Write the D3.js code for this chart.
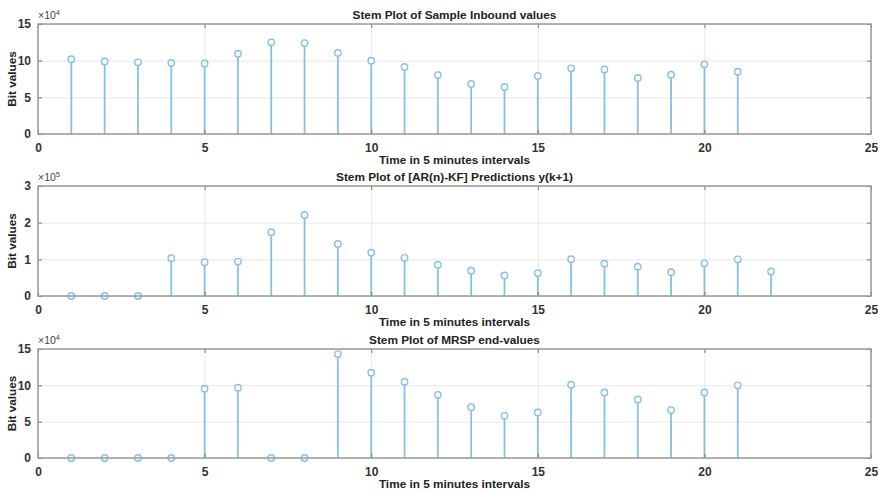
<!DOCTYPE html>
<html>
<head>
<meta charset="utf-8">
<script src="https://cdn.jsdelivr.net/npm/d3@7"></script>
<style>
  html, body { margin: 0; padding: 0; background: #fff; }
  svg { display: block; font-family: "Liberation Sans", Arial, sans-serif; }
</style>
</head>
<body>
<svg id="chart" width="878" height="491"></svg>
<script>
// Sample index (time in 5 minute intervals)
const inboundX = d3.range(1, 22);
const inboundValues = [102000, 99000, 97700, 96800, 96300, 109500, 125000, 124000, 110500,
  100000, 91400, 80300, 68200, 64100, 79100, 89500, 88100, 76400, 80900, 95000, 85000];

const predX = d3.range(1, 23);
const predValues = [0, 0, 0, 103000, 92000, 94000, 174000, 221000, 142000, 118000, 104000,
  85500, 69000, 56000, 62500, 100500, 88000, 80000, 65000, 89000, 100000, 67000];

const mrspX = d3.range(1, 22);
const mrspValues = [0, 0, 0, 0, 95300, 96700, 0, 0, 143000, 117400, 105000, 87000, 70000,
  58000, 62700, 100800, 90300, 80600, 65900, 90300, 100000];

const xTicks = [0, 5, 10, 15, 20, 25];
const yTicks1e4 = [0, 50000, 100000, 150000];
const yTicks1e5 = [0, 100000, 200000, 300000];

const panels = [
  { title: "Stem Plot of Sample Inbound values", xs: inboundX, ys: inboundValues,
    yMax: 150000, yTicks: yTicks1e4, exp: 4, top: 24, bottom: 134 },
  { title: "Stem Plot of [AR(n)-KF] Predictions y(k+1)", xs: predX, ys: predValues,
    yMax: 300000, yTicks: yTicks1e5, exp: 5, top: 186, bottom: 296 },
  { title: "Stem Plot of MRSP end-values", xs: mrspX, ys: mrspValues,
    yMax: 150000, yTicks: yTicks1e4, exp: 4, top: 349, bottom: 458 }
];

const left = 38, right = 871;
const stemColor = "#86c0e8";
const svg = d3.select("#chart");

panels.forEach(p => {
  const x = d3.scaleLinear().domain([0, 25]).range([left, right]);
  const y = d3.scaleLinear().domain([0, p.yMax]).range([p.bottom, p.top]);
  const h = p.bottom - p.top, w = right - left;
  const g = svg.append("g");
  const scale = Math.pow(10, p.exp);

  // grid lines
  g.append("g").attr("transform", `translate(0,${p.bottom})`)
    .call(d3.axisBottom(x).tickValues(xTicks).tickSize(-h).tickFormat(""))
    .call(a => a.select(".domain").remove())
    .call(a => a.selectAll("line").attr("stroke", "#e8e8e8").attr("stroke-width", 1));
  g.append("g").attr("transform", `translate(${left},0)`)
    .call(d3.axisLeft(y).tickValues(p.yTicks).tickSize(-w).tickFormat(""))
    .call(a => a.select(".domain").remove())
    .call(a => a.selectAll("line").attr("stroke", "#e8e8e8").attr("stroke-width", 1));

  // stems
  g.selectAll(".stem").data(p.xs.map((d, i) => [d, p.ys[i]])).join("line")
    .attr("x1", d => x(d[0])).attr("x2", d => x(d[0]))
    .attr("y1", y(0)).attr("y2", d => y(d[1]))
    .attr("stroke", stemColor).attr("stroke-width", 1.8);
  g.selectAll(".head").data(p.xs.map((d, i) => [d, p.ys[i]])).join("circle")
    .attr("cx", d => x(d[0])).attr("cy", d => y(d[1])).attr("r", 3.2)
    .attr("fill", "#fff").attr("stroke", stemColor).attr("stroke-width", 1.4);

  // axes with inward ticks
  const styleAxis = a => {
    a.select(".domain").remove();
    a.selectAll("line").attr("stroke", "#777").attr("stroke-width", 1);
    a.selectAll("text").attr("fill", "#333").attr("font-size", 12).attr("font-weight", "bold");
  };
  g.append("g").attr("transform", `translate(0,${p.bottom})`)
    .call(d3.axisBottom(x).tickValues(xTicks).tickSizeInner(-4).tickSizeOuter(0).tickPadding(9))
    .call(styleAxis);
  g.append("g").attr("transform", `translate(0,${p.top})`)
    .call(d3.axisTop(x).tickValues(xTicks).tickSizeInner(-4).tickSizeOuter(0).tickFormat(""))
    .call(styleAxis);
  g.append("g").attr("transform", `translate(${left},0)`)
    .call(d3.axisLeft(y).tickValues(p.yTicks).tickSizeInner(-4).tickSizeOuter(0).tickPadding(7)
      .tickFormat(v => d3.format("d")(v / scale)))
    .call(styleAxis);
  g.append("g").attr("transform", `translate(${right},0)`)
    .call(d3.axisRight(y).tickValues(p.yTicks).tickSizeInner(-4).tickSizeOuter(0).tickFormat(""))
    .call(styleAxis);

  // box
  g.append("rect").attr("x", left).attr("y", p.top).attr("width", w).attr("height", h)
    .attr("fill", "none").attr("stroke", "#9a9a9a").attr("stroke-width", 1.5);

  // exponent
  const ex = g.append("text").attr("x", left).attr("y", p.top - 5)
    .attr("font-size", 10.5).attr("fill", "#444");
  ex.append("tspan").text("×10");
  ex.append("tspan").attr("font-size", 7.5).attr("dy", -4).text(p.exp);

  // title
  g.append("text").attr("x", (left + right) / 2).attr("y", p.top - 5)
    .attr("text-anchor", "middle").attr("font-size", 11.8).attr("font-weight", "bold")
    .attr("fill", "#222").text(p.title);

  // x label
  g.append("text").attr("x", (left + right) / 2).attr("y", p.bottom + 30)
    .attr("text-anchor", "middle").attr("font-size", 11.8).attr("font-weight", "bold")
    .attr("fill", "#222").text("Time in 5 minutes intervals");

  // y label
  g.append("text").attr("transform", `translate(16,${(p.top + p.bottom) / 2}) rotate(-90)`)
    .attr("text-anchor", "middle").attr("font-size", 11.8).attr("font-weight", "bold")
    .attr("fill", "#222").text("Bit values");
});
</script>
</body>
</html>
